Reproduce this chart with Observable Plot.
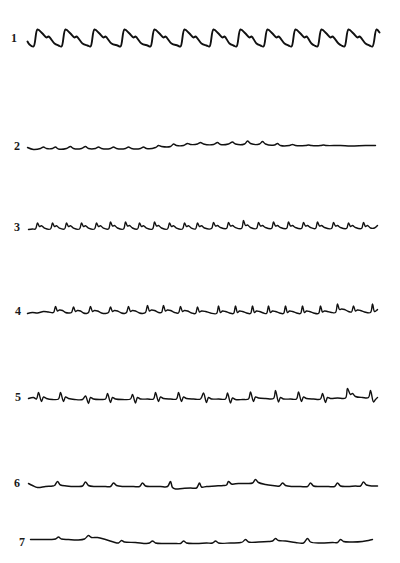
<!DOCTYPE html>
<html><head><meta charset="utf-8">
<script src="https://cdn.jsdelivr.net/npm/d3@7"></script>
<script src="https://cdn.jsdelivr.net/npm/@observablehq/plot@0.6"></script>
<style>
html,body{margin:0;padding:0;background:#fff;}
#page{position:relative;width:400px;height:563px;overflow:hidden;background:#fff;}
.row{position:absolute;left:0;}
.lab{position:absolute;font-family:"Liberation Serif","DejaVu Serif",serif;font-size:12px;line-height:12px;font-weight:bold;color:#1a1a1a;}
</style></head><body><div id="page"></div>
<script>
// Trace labels
const labels = ["1", "2", "3", "4", "5", "6", "7"];

// Each trace: [time, amplitude] (amplitude relative to the trace's resting level)
const trace1 = [
[27,5],[29,2],
[33,0],[37,17],[42,13],[46,9],[48,10],[54,3],[58,1],
[61,0],[65,17],[70,13],[74,9],[76,10],[82,3],[87,1],
[90,0],[94,17],[99,13],[103,9],[105,10],[111,3],[117,1],
[120,0],[124,17],[129,13],[133,9],[135,10],[141,3],[147,1],
[150,0],[154,17],[159,13],[163,9],[165,10],[171,3],[177,1],
[180,0],[184,17],[189,13],[193,9],[195,10],[201,3],[206,1],
[209,0],[213,17],[218,13],[222,9],[224,10],[229,3],[233,1],
[236,0],[240,17],[245,13],[249,9],[251,10],[256,3],[260,1],
[263,0],[267,17],[272,13],[276,9],[278,10],[284,3],[288,1],
[291,0],[295,17],[300,13],[304,9],[306,10],[311,3],[314,1],
[317,0],[321,17],[326,13],[330,9],[332,10],[338,3],[341,1],
[344,0],[348,17],[353,13],[357,9],[359,10],[365,3],[369,1],
[372,0],[376,17],[379,14]
];

const trace2 = [
[27,1],[33,-1],[40,0],[43,1.5],[46,0],[52,0],[55,1.5],[58,-0.5],[66,0],[70,2],[73,0],[81,0],[85,2],[88,0],
[95,0],[98,1.5],[101,0],[110,0],[113,1.5],[116,0],[125,0],[128,1.5],[131,0],[140,0],[143,1.5],[146,0],
[155,1],[158,3],[161,2],[170,2],[173,4.5],[176,3],[183,3],[187,5],[190,4],[197,4.5],[200,6],[203,4.5],
[213,4],[217,6],[220,4],[228,4.5],[232,6.5],[235,4.5],[244,4.5],[247,7.5],[250,5],[259,4.5],[262,7],[265,4.5],
[274,3.5],[277,5],[280,3],[289,3],[292,4],[295,3],[305,3],[308,3.5],[311,3],[320,3],[323,3.5],[326,3],
[340,3],[350,2.5],[365,3],[375,3]
];

const trace3 = [
[28,-1],[32,-0.5],
[35,-0.5],[37,5.5],[39,2],[41,2.8],[44,0.3],
[50,-0.5],[52,5.5],[54,2],[56,2.8],[59,0.3],
[64,-0.5],[66,5.5],[68,2],[70,2.8],[73,0.3],
[79,-0.5],[81,5.5],[83,2],[85,2.8],[88,0.3],
[94,-0.5],[96,5.5],[98,2],[100,2.8],[103,0.3],
[108,-0.5],[110,6.5],[112,2.5],[114,3],[117,0.5],
[123,-0.5],[125,6.5],[127,2.5],[129,3],[132,0.5],
[137,-0.5],[139,5.5],[141,2],[143,2.8],[146,0.3],
[152,-0.5],[154,6.5],[156,2.5],[158,3],[161,0.5],
[167,-0.5],[169,5.5],[171,2],[173,2.8],[176,0.3],
[182,-0.5],[184,5.5],[186,2],[188,2.8],[191,0.3],
[195,-0.5],[197,5.5],[199,2],[201,2.8],[204,0.5],
[211,0],[213,6],[215,2.5],[217,3],[220,1],
[226,0],[228,6],[230,2.5],[232,3],[235,1],
[241,0],[243,8],[245,3],[247,3.5],[250,1],
[256,0],[258,6],[260,2.5],[262,3],[265,1],
[271,0],[273,6.5],[275,2.5],[277,3],[280,1],
[286,0],[288,6.5],[290,2.5],[292,3],[295,1],
[301,0],[303,6],[305,2.5],[307,3],[310,1],
[315,0],[317,6.5],[319,2.5],[321,3],[324,1],
[331,0],[333,6],[335,2.5],[337,3],[340,1],
[346,0],[348,5.5],[350,2],[352,3],[355,1],
[361,0],[363,6],[365,2],[367,3],[370,0.5],
[374,0.5],[377,3]
];

const trace4 = [
[27,-1],[32,0],[37,-0.5],[43,1],[48,0.5],
[53,0],[55,6],[57,1.5],[59,2.5],[62,2],[65,0],[68,-0.5],
[71,0],[73,5.5],[75,1],[77,2],[80,1.5],[83,-0.5],[86,-1],
[88,0],[90,6],[92,1],[94,2],[97,1.5],[101,-0.5],[105,-1],
[108,0],[110,5.5],[112,1],[114,2],[117,1.5],[121,-0.5],[124,-1],
[126,0],[128,6],[130,1],[132,2],[135,1.5],[139,-0.5],[142,-1],
[145,0],[147,7],[149,1.5],[151,2.5],[154,2],[158,0],[161,0],
[163,7],[165,1.5],[167,2.5],[170,2],[174,0],[178,-0.5],
[180,6],[182,1],[184,2],[187,1.5],[191,-0.5],[195,-1],
[197,5.5],[199,0.5],[201,1.5],[205,1],[210,-0.5],[216,-1],
[218,6.5],[220,0],[222,1.5],[225,1],[229,-0.5],[233,-1],
[235,6.5],[237,0],[239,1.5],[242,1],[246,-0.5],[250,-1],
[252,6.5],[254,0],[256,1.5],[259,1],[263,-0.5],[266,-1],
[268,6.5],[270,0],[272,1.5],[275,1],[279,-0.5],[283,-1],
[285,6.5],[287,0],[289,1.5],[292,1],[296,-0.5],[300,-1],
[302,6.5],[304,0],[306,1.5],[309,1],[313,-0.5],[318,-1],
[320,6.5],[322,0.5],[324,1.5],[327,1],[331,0],[335,0],
[337,8.5],[339,3],[341,3.5],[344,3],[348,1],[351,0.5],
[353,6.5],[355,1.5],[357,2.5],[360,2],[364,0.5],[370,0],
[372,8.5],[374,1],[376,2],[377,3]
];

const trace5 = [
[28,1],[33,2],
[36,0.5],[38,7],[41,-2],[43,2.5],[46,1],[52,0],[58,0.5],
[60,7],[63,-2],[65,2.5],[68,1],[74,0],[82,0],
[85,3.5],[88,-4],[90,2],[93,0.5],[100,0],[105,0.5],
[107,6],[110,-3],[112,2],[115,0.5],[122,0],[130,0.5],
[132,5],[135,-3.5],[137,2],[140,0.5],[147,0.5],[153,0.5],
[155,7],[158,-2],[160,2.5],[163,1],[170,0.5],[176,0.5],
[178,7],[181,-2],[183,2.5],[186,1],[193,0.5],[200,0.5],
[203,6.5],[206,-3],[208,2],[211,0.5],[218,0.5],[225,0.5],
[227,6.5],[230,-3.5],[232,1.5],[235,0],[242,0],[248,0.5],
[250,7.5],[253,-2],[255,2.5],[258,1.5],[265,1],[273,1],
[275,9],[278,-2.5],[280,2],[283,0.5],[290,0.5],[296,0.5],
[298,7.5],[301,-2],[303,2.5],[306,1],[313,0.5],[320,0.5],
[322,6],[325,-3],[327,2],[330,1],[337,1.5],[345,1.5],
[347,11],[350,5],[352,6],[355,3],[362,2],[368,2],
[370,9],[373,-2.5],[375,0],[377,2]
];

const trace6 = [
[28,3],[32,1],[37,-1],[45,0],[52,0.5],
[54,1],[57,5],[60,1.5],[66,0.5],[76,0],[82,0.5],
[85,4.5],[88,1],[95,0],[105,0],[110,0],
[113,3.5],[116,1],[123,0],[133,0],[139,0],
[142,3.5],[145,0.5],[152,0],[160,0],[167,0],
[170,5],[172,-1],[175,-2.5],[182,-2],[190,-1.5],[196,-1.5],
[199,3.5],[201,-0.5],[206,0],[215,0.5],[223,1],
[226,1.5],[228,5],[231,2.5],[238,3],[246,3],[252,3.5],
[255,7],[258,4],[265,2],[272,1],[279,0.5],
[282,3.5],[285,1],[292,0],[300,0],[307,0],
[310,3.5],[313,0.5],[320,0],[328,0],[334,0],
[337,3.5],[340,0.5],[347,0],[355,0.5],[360,0.5],
[363,4.5],[366,1.5],[372,0.5],[377,0.5]
];

const trace7 = [
[30,3],[40,3],[50,3],[55,3.5],[58,5.5],[61,3.5],[68,3],[77,2.5],[84,3.5],
[88,7],[91,5],[97,5],[105,3],[113,0.5],[118,-0.5],
[121,2],[124,0.5],[135,0],[146,-1],[149,-0.5],
[152,1.5],[155,-0.5],[165,-1],[176,-1],[180,-1],
[183,1.5],[186,-0.5],[196,-1],[206,-0.5],[212,-0.5],
[215,1.5],[218,-0.5],[230,-0.5],[240,0],[242,0.5],
[245,3],[248,0.5],[258,0.5],[268,1],[272,1.5],
[275,4],[278,2],[285,1.5],[295,0],[303,-0.5],
[307,4],[310,0.5],[320,-0.5],[332,0],[337,0],
[340,3],[343,1],[352,0.5],[362,1],[368,2],[372,3]
];

const traces = [trace1, trace2, trace3, trace4, trace5, trace6, trace7];

// Layout (page placement of each row and its label)
const rowTop = [21, 123, 203, 287, 374, 461, 517];
const strokeW = [1.9, 1.4, 1.4, 1.4, 1.4, 1.5, 1.4];
const labelPos = [[11, 32], [14, 140], [14, 221], [15, 305], [15, 391], [14, 477], [19, 536]];

const page = document.getElementById("page");
traces.forEach((tr, i) => {
  const data = tr.map(([t, a]) => ({t, a}));
  const chart = Plot.plot({
    width: 400,
    height: 40,
    margin: 0,
    x: {domain: [0, 400], axis: null},
    y: {domain: [-15, 25], axis: null},
    marks: [
      Plot.line(data, {x: "t", y: "a", stroke: "#111", strokeWidth: strokeW[i], strokeLinejoin: "round", strokeLinecap: "round", curve: "catmull-rom"})
    ]
  });
  chart.style.background = "transparent";
  const wrap = document.createElement("div");
  wrap.className = "row";
  wrap.style.top = rowTop[i] + "px";
  wrap.appendChild(chart);
  page.appendChild(wrap);
  const lab = document.createElement("div");
  lab.className = "lab";
  lab.textContent = labels[i];
  lab.style.left = labelPos[i][0] + "px";
  lab.style.top = labelPos[i][1] + "px";
  page.appendChild(lab);
});
</script></body></html>
